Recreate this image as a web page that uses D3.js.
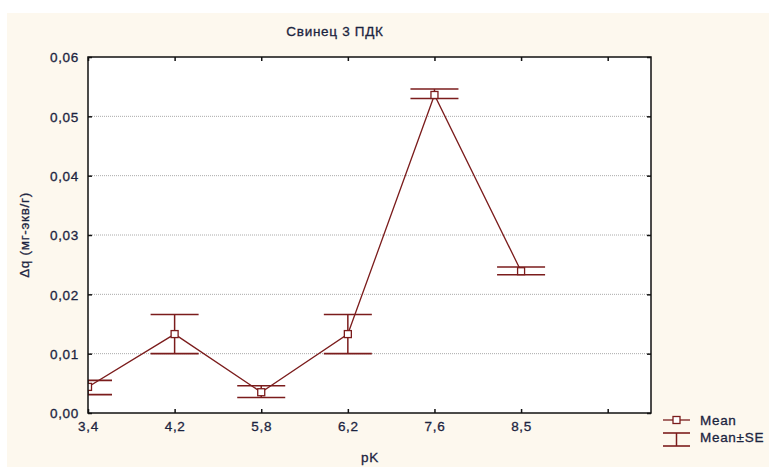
<!DOCTYPE html>
<html><head><meta charset="utf-8">
<script src="https://cdn.jsdelivr.net/npm/d3@7"></script>
<style>body{margin:0;background:#fff}svg{display:block;font-family:"Liberation Sans",Arial,sans-serif}</style>
</head><body>
<svg id="c" width="769" height="467"></svg>
<script>
const categories = ["3,4","4,2","5,8","6,2","7,6","8,5"];
const means = [0.0044, 0.0133, 0.0035, 0.0133, 0.0536, 0.0239];
const upper = [0.0055, 0.0166, 0.0046, 0.0166, 0.0546, 0.0246];
const lower = [0.0031, 0.0100, 0.0026, 0.0100, 0.0530, 0.0233];
const yTicks = [0, 0.01, 0.02, 0.03, 0.04, 0.05, 0.06];
const title = "Свинец 3 ПДК";
const xTitle = "pK";
const yTitle = "Δq (мг-экв/г)";

const svg = d3.select("#c");
const W = 769, H = 467;
const m = {l: 88, t: 57, r: 651, b: 413};
const col = "#7b1c1c";
const txt = "#1c2440";
const FS = 13.5, LS = "0.7px";

svg.append("rect").attr("x", 7).attr("y", 13).attr("width", W - 7).attr("height", H - 13).attr("fill", "#fdf8ee");
svg.append("rect").attr("x", m.l).attr("y", m.t).attr("width", m.r - m.l).attr("height", m.b - m.t).attr("fill", "#fff");

const x = d3.scaleLinear().domain([0, 6.5]).range([m.l, m.r]);
const y = d3.scaleLinear().domain([0, 0.06]).range([m.b, m.t]);
const fmt = d => d3.format(".2f")(d).replace(".", ",");

// gridlines
svg.append("g").selectAll("line").data(yTicks.filter(d => d > 0 && d < 0.06)).join("line")
  .attr("x1", m.l).attr("x2", m.r).attr("y1", d => y(d)).attr("y2", d => y(d))
  .attr("stroke", "#aaa").attr("stroke-width", 1).attr("stroke-dasharray", "1,1");

svg.append("clipPath").attr("id", "pc").append("rect")
  .attr("x", m.l).attr("y", m.t).attr("width", m.r - m.l).attr("height", m.b - m.t);

const g = svg.append("g").attr("clip-path", "url(#pc)");
const idx = d3.range(categories.length);
const hw = 24;
// error bars
idx.forEach(i => {
  const cx = x(i);
  g.append("line").attr("x1", cx).attr("x2", cx).attr("y1", y(upper[i])).attr("y2", y(lower[i])).attr("stroke", col).attr("stroke-width", 1.5);
  [upper[i], lower[i]].forEach(v => g.append("line").attr("x1", cx - hw).attr("x2", cx + hw).attr("y1", y(v)).attr("y2", y(v)).attr("stroke", col).attr("stroke-width", 1.6));
});
// mean line
g.append("path").datum(idx).attr("d", d3.line().x(i => x(i)).y(i => y(means[i])))
  .attr("fill", "none").attr("stroke", col).attr("stroke-width", 1.3);
g.selectAll("rect.pt").data(idx).join("rect").attr("class", "pt")
  .attr("x", i => x(i) - 3.5).attr("y", i => y(means[i]) - 3.5).attr("width", 7).attr("height", 7)
  .attr("fill", "#fff").attr("stroke", col).attr("stroke-width", 1.3);

// frame
svg.append("rect").attr("x", m.l).attr("y", m.t).attr("width", m.r - m.l).attr("height", m.b - m.t)
  .attr("fill", "none").attr("stroke", "#111").attr("stroke-width", 1.5);

// axes
const xTickVals = d3.range(0, 7);
const xb = svg.append("g").attr("transform", `translate(0,${m.b})`)
  .call(d3.axisBottom(x).tickValues(xTickVals).tickSize(-4).tickPadding(10).tickFormat(i => categories[i] || ""));
const xt = svg.append("g").attr("transform", `translate(0,${m.t})`)
  .call(d3.axisTop(x).tickValues(xTickVals).tickSize(-4).tickFormat(""));
const yl = svg.append("g").attr("transform", `translate(${m.l},0)`)
  .call(d3.axisLeft(y).tickValues(yTicks).tickSize(-4).tickPadding(9).tickFormat(fmt));
const yr = svg.append("g").attr("transform", `translate(${m.r},0)`)
  .call(d3.axisRight(y).tickValues(yTicks).tickSize(-4).tickFormat(""));
[xb, xt, yl, yr].forEach(a => {
  a.select(".domain").remove();
  a.selectAll(".tick line").attr("stroke", "#111").attr("stroke-width", 1.5);
  a.selectAll("text").attr("fill", txt).attr("font-size", FS).attr("letter-spacing", LS)
    .attr("stroke", txt).attr("stroke-width", 0.3)
    .attr("font-family", "Liberation Sans, Arial, sans-serif");
});
yl.selectAll("text").attr("dy", "0.35em");
xb.selectAll("text").attr("dy", "0.6em");

// titles
const T = (sel) => sel.attr("font-size", FS).attr("letter-spacing", LS).attr("fill", txt).attr("stroke", txt).attr("stroke-width", 0.3);
T(svg.append("text").attr("x", 335).attr("y", 36).attr("text-anchor", "middle")).text(title);
T(svg.append("text").attr("x", 370).attr("y", 462).attr("text-anchor", "middle")).text(xTitle);
T(svg.append("text").attr("transform", "translate(29,235) rotate(-90)").attr("text-anchor", "middle")).text(yTitle);

// legend
const lg = svg.append("g");
lg.append("line").attr("x1", 663).attr("x2", 690).attr("y1", 420).attr("y2", 420).attr("stroke", col).attr("stroke-width", 1.3);
lg.append("rect").attr("x", 673).attr("y", 416.5).attr("width", 7).attr("height", 7).attr("fill", "#fff").attr("stroke", col).attr("stroke-width", 1.3);
T(lg.append("text").attr("x", 700).attr("y", 425)).text("Mean");
lg.append("line").attr("x1", 663).attr("x2", 690).attr("y1", 433).attr("y2", 433).attr("stroke", col).attr("stroke-width", 1.6);
lg.append("line").attr("x1", 663).attr("x2", 690).attr("y1", 446).attr("y2", 446).attr("stroke", col).attr("stroke-width", 1.6);
lg.append("line").attr("x1", 676.5).attr("x2", 676.5).attr("y1", 433).attr("y2", 446).attr("stroke", col).attr("stroke-width", 1.5);
T(lg.append("text").attr("x", 700).attr("y", 442)).text("Mean±SE");
</script>
</body></html>
